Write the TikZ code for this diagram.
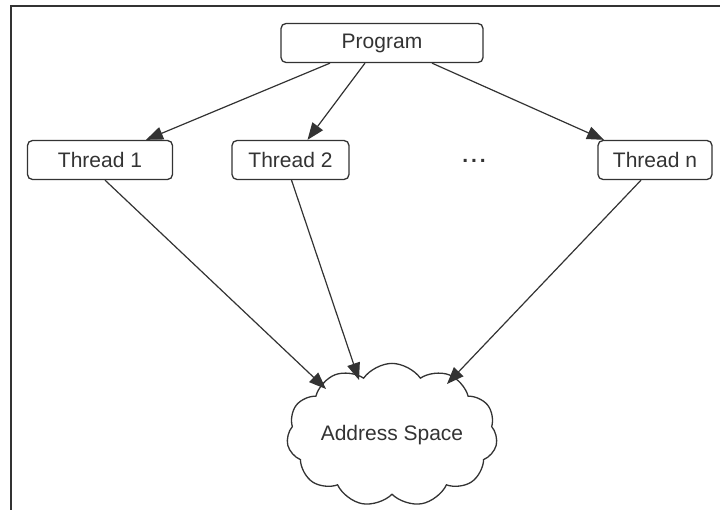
\documentclass[tikz,border=0pt]{standalone}
\usepackage{fontspec}
\setmainfont{Liberation Sans}
\usetikzlibrary{shapes.symbols,arrows.meta}
\definecolor{ink}{HTML}{333333}
\begin{document}
\begin{tikzpicture}[x=1pt,y=-1pt,
  font=\fontsize{21}{25}\selectfont, text=ink,
  box/.style={draw=ink, line width=1.3pt, rounded corners=5pt, minimum height=39pt, inner sep=0pt},
  conn/.style={draw=ink, line width=1.2pt, -{Triangle[length=17pt,width=13pt]}}]
\useasboundingbox (0,0) rectangle (720,510);
\fill[white] (0,0) rectangle (720,510);
\draw[ink, line width=2.5pt] (11,510) -- (11,6) -- (720,6);
\node[box, minimum width=202pt] (prog) at (382,43) {Program};
\node[box, minimum width=145pt] (t1) at (100,160) {Thread 1};
\node[box, minimum width=117pt] (t2) at (290.5,160) {Thread 2};
\node[box, minimum width=114pt] (tn) at (655,160) {Thread n};
\node[anchor=base, inner sep=0pt] (dots) at (474,163) {\textbf{.\hspace{3pt}.\hspace{3pt}.}};
\node[cloud, draw=ink, line width=1.3pt, cloud puffs=11, cloud puff arc=110, aspect=1.7, minimum width=196pt, minimum height=116pt, inner sep=0pt] (as) at (392,435) {Address Space};
\draw[conn] ([xshift=-52pt]prog.south) -- ([xshift=46pt]t1.north);
\draw[conn] ([xshift=-17pt]prog.south) -- ([xshift=17pt]t2.north);
\draw[conn] ([xshift=50pt]prog.south) -- ([xshift=-51pt]tn.north);
\coordinate (e1) at (326,389);
\coordinate (e2) at (359,380);
\coordinate (en) at (447,384);
\draw[conn] ([xshift=5pt]t1.south) -- (e1);
\draw[conn] ([xshift=1pt]t2.south) -- (e2);
\draw[conn] ([xshift=-14pt]tn.south) -- (en);
\end{tikzpicture}
\end{document}
